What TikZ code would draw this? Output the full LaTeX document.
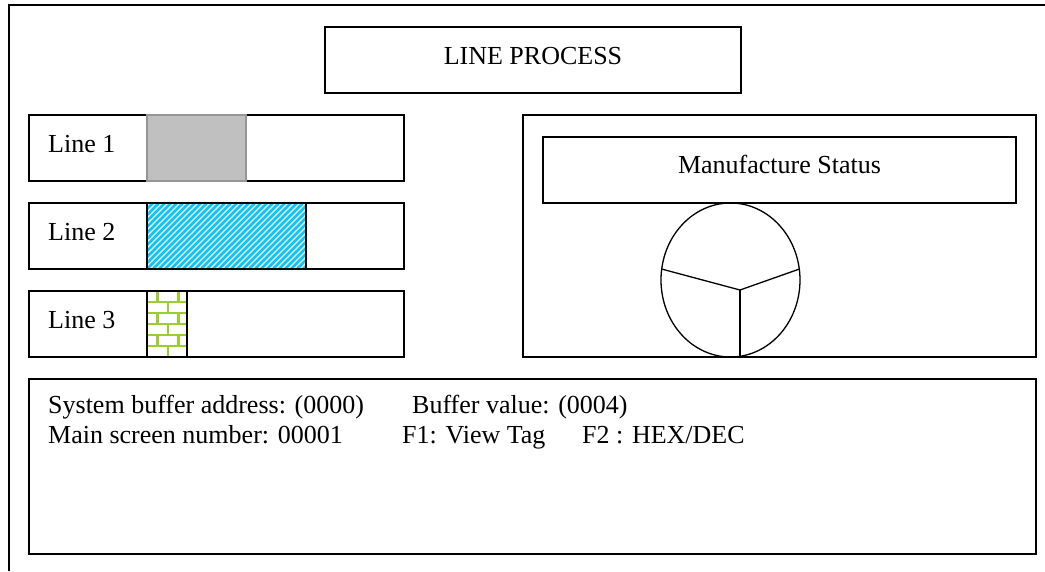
\documentclass[tikz,border=0pt]{standalone}
\usepackage{fontspec}
\setmainfont{Liberation Serif}
\usepackage{xcolor}
\definecolor{barblue}{RGB}{0,200,255}
\definecolor{bargray}{RGB}{192,192,192}
\definecolor{bargrayline}{RGB}{150,150,150}
\definecolor{brickgreen}{RGB}{154,205,50}

\begin{document}
\begin{tikzpicture}[x=1pt,y=1pt,yscale=-1,xscale=1,
    box/.style={draw,line width=1.3pt,inner sep=0pt,outer sep=0pt},
    txt/.style={anchor=base west,inner sep=0pt},
    ctxt/.style={anchor=base,inner sep=0pt},
    font=\fontsize{26}{26}\selectfont]
        \useasboundingbox (0,0) rectangle (1045,571);

        % Outer frame (cut at right and bottom)
        \draw [line width=1.3pt] (9,571) -- (9,5) -- (1045,5);

        % Title
        \node [box,minimum width=416,minimum height=66] (title) at (533,60) {};
        \node [ctxt] (titletext) at (533,64.5) {LINE PROCESS};

        % Line boxes
        \node [box,minimum width=375,minimum height=66] (line1) at (216.5,148) {};
        \node [box,minimum width=375,minimum height=66] (line2) at (216.5,236) {};
        \node [box,minimum width=375,minimum height=66] (line3) at (216.5,324) {};
        \node [txt] (line1text) at (48,152) {Line 1};
        \node [txt] (line2text) at (48,240) {Line 2};
        \node [txt] (line3text) at (48,328) {Line 3};

        % Bar 1: gray
        \draw [fill=bargray,draw=bargrayline,line width=1.3pt] (147,115) rectangle (246,181);

        % Bar 2: stripes
        \begin{scope}
        \clip (147,203) rectangle (306,269);
        \fill [white] (147,203) rectangle (306,269);
        \foreach \x in {81,87,...,306}
            \draw [barblue,line width=2.6pt] (\x,269) -- ++(66,-66);
        \end{scope}
        \draw [line width=1.3pt] (147,203) rectangle (306,269);

        % Bar 3: bricks
        \begin{scope}
        \clip (147,291) rectangle (187,357);
        \foreach \k in {0,...,5} {
            \pgfmathsetmacro{\yy}{291+11*\k}
            \pgfmathsetmacro{\off}{mod(\k,2)*10.5}
            \draw [brickgreen,line width=2.2pt] (147,\yy) -- (187,\yy);
            \foreach \j in {0,1,2}
                \draw [brickgreen,line width=2.2pt] (147+\off+21*\j-10.5,\yy) -- ++(0,11);
        }
        \end{scope}
        \draw [line width=1.3pt] (147,291) rectangle (187,357);

        % Manufacture status panel
        \node [box,minimum width=513,minimum height=242] (panel) at (779.5,236) {};
        \node [box,minimum width=473,minimum height=66] (status) at (779.5,170) {};
        \node [ctxt] (statustext) at (779.5,173.5) {Manufacture Status};

        % Pie
        \coordinate (hub) at (740,290);
        \coordinate (pl) at (661.5,269);
        \coordinate (pr) at (799.5,269);
        \coordinate (pb) at (740,357);
        \draw [line width=1.3pt] (730.5,280) ellipse [x radius=69.5,y radius=77];
        \draw [line width=1.3pt] (pl) -- (hub) -- (pr);
        \draw [line width=1.3pt] (hub) -- (pb);

        % Info box
        \node [box,minimum width=1007,minimum height=175] (info) at (532.5,466.5) {};
        \node [txt] (addr) at (48,413.5) {System buffer address: (0000)};
        \node [txt] (bufval) at (412,413.5) {Buffer value: (0004)};
        \node [txt] (screen) at (48,443) {Main screen number: 00001};
        \node [txt] (fone) at (402,443) {F1: View Tag};
        \node [txt] (ftwo) at (582,443) {F2 : HEX/DEC};

\end{tikzpicture}
\end{document}
